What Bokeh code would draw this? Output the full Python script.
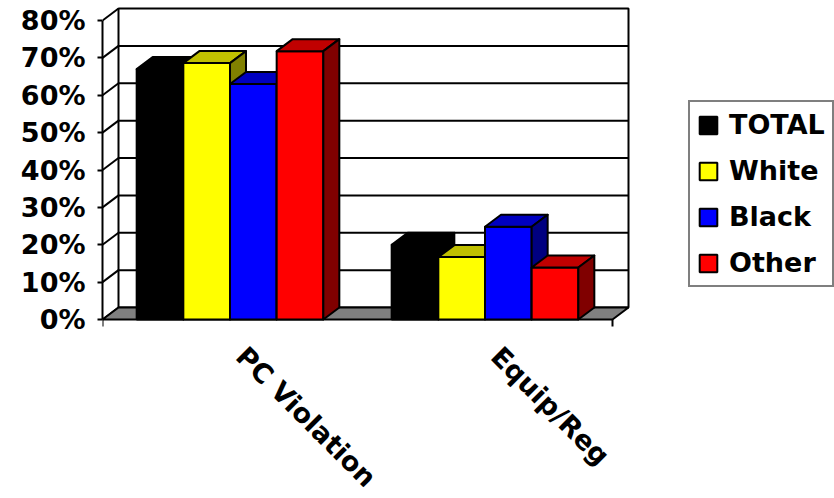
import math
from bokeh.plotting import figure
from bokeh.models import Range1d, FixedTicker, PrintfTickFormatter, Legend, LegendItem
from bokeh.core.properties import value
from bokeh.embed import file_html
from bokeh.resources import INLINE

# ---- data -----------------------------------------------------------------
categories = ["PC Violation", "Equip/Reg"]
series_names = ["TOTAL", "White", "Black", "Other"]
total = [67.0, 20.0]
white = [68.6, 16.7]
black = [63.0, 24.8]
other = [71.8, 13.9]
y_ticks = [0, 10, 20, 30, 40, 50, 60, 70, 80]

series_values = [total, white, black, other]

# ---- style ----------------------------------------------------------------
front_colors = ["#000000", "#FFFF00", "#0000FF", "#FF0000"]
top_colors = ["#000000", "#C0C000", "#0000C0", "#C00000"]
side_colors = ["#000000", "#808000", "#000080", "#800000"]

W, H = 834, 498
LEFT = 102          # screen column of the front value axis
PX_X = 255.0        # pixels per category slot
PX_Y = 3.7375       # pixels per percentage point
ZERO_Y = 319        # screen row of 0 %
DX = 16 / PX_X      # depth of the 3-D box along x (data units)
DY = 12 / PX_Y      # depth of the 3-D box along y (data units)
BAR_W = 0.183       # bar width in category units
FONT = "DejaVu Sans"
FS = "27px"

n_cat = len(categories)
y_max = y_ticks[-1]

p = figure(width=W, height=H, output_backend="svg", toolbar_location=None,
           x_range=Range1d(0, (W - LEFT) / PX_X),
           y_range=Range1d(-(H - ZERO_Y) / PX_Y, ZERO_Y / PX_Y),
           x_axis_location=None,
           min_border_left=LEFT, min_border_right=0,
           min_border_top=0, min_border_bottom=0)
p.grid.visible = False
p.outline_line_color = None
p.background_fill_color = "white"
p.border_fill_color = "white"

# value axis on the front-left edge
ax = p.yaxis[0]
ax.ticker = FixedTicker(ticks=y_ticks)
ax.bounds = (y_ticks[0], y_max)
ax.formatter = PrintfTickFormatter(format="%d%%")
ax.major_label_text_font = FONT
ax.major_label_text_font_style = "bold"
ax.major_label_text_font_size = FS
ax.major_label_text_color = "black"
ax.major_label_standoff = 12
ax.major_tick_out = 5
ax.major_tick_in = 0
ax.minor_tick_out = 0
ax.minor_tick_in = 0
ax.axis_line_width = 2
ax.axis_line_color = "black"
ax.major_tick_line_width = 2
ax.major_tick_line_color = "black"

LW = 2

# back wall with gridlines
p.quad(left=[DX], right=[n_cat + DX], bottom=[DY], top=[y_max + DY],
       fill_color="white", line_color="black", line_width=LW)
inner = y_ticks[1:-1]
p.segment(x0=[DX] * len(inner), x1=[n_cat + DX] * len(inner),
          y0=[v + DY for v in inner], y1=[v + DY for v in inner],
          line_color="black", line_width=LW)

# side wall: one diagonal per tick level
p.segment(x0=[0] * len(y_ticks), x1=[DX] * len(y_ticks),
          y0=y_ticks, y1=[v + DY for v in y_ticks],
          line_color="black", line_width=LW)

# floor
p.patch(x=[0, n_cat, n_cat + DX, DX], y=[0, 0, DY, DY],
        fill_color="#808080", line_color="black", line_width=LW)

# category-axis end ticks
p.segment(x0=[0, n_cat], x1=[0, n_cat], y0=[0, 0], y1=[-7 / PX_Y] * 2,
          line_color="black", line_width=LW)

# 3-D columns, drawn series by series from left to right
n_ser = len(series_names)
front_renderers = []
for s, vals in enumerate(series_values):
    lefts = [c + 0.5 - n_ser * BAR_W / 2 + s * BAR_W for c in range(n_cat)]
    rights = [x + BAR_W for x in lefts]
    fr = p.quad(left=lefts, right=rights, bottom=[0] * n_cat, top=vals,
                fill_color=front_colors[s], line_color="black", line_width=LW)
    front_renderers.append(fr)
    top_xs = [[l, r, r + DX, l + DX] for l, r in zip(lefts, rights)]
    top_ys = [[v, v, v + DY, v + DY] for v in vals]
    p.patches(xs=top_xs, ys=top_ys, fill_color=top_colors[s],
              line_color="black", line_width=LW, line_join="round")
    side_xs = [[r, r + DX, r + DX, r] for r in rights]
    side_ys = [[0, DY, v + DY, v] for v in vals]
    p.patches(xs=side_xs, ys=side_ys, fill_color=side_colors[s],
              line_color="black", line_width=LW, line_join="round")

# rotated category labels under the floor
p.text(x=[c + 0.5 + 11 / PX_X for c in range(n_cat)],
       y=[-32 / PX_Y] * n_cat, text=categories, angle=-math.pi / 4,
       text_align="left", text_baseline="alphabetic",
       text_font=value(FONT), text_font_style="bold", text_font_size="27px",
       text_color="black")

legend = Legend(items=[LegendItem(label=name, renderers=[r])
                       for name, r in zip(series_names, front_renderers)],
                location=(586, 211), orientation="vertical",
                label_text_font=FONT, label_text_font_style="bold",
                label_text_font_size=FS, label_text_color="black",
                glyph_width=22, glyph_height=22, label_standoff=10,
                padding=7, spacing=15, margin=0,
                border_line_color="black", border_line_width=2,
                background_fill_color="white", background_fill_alpha=1)
p.add_layout(legend)

open("out.html", "w").write(file_html(p, INLINE))
